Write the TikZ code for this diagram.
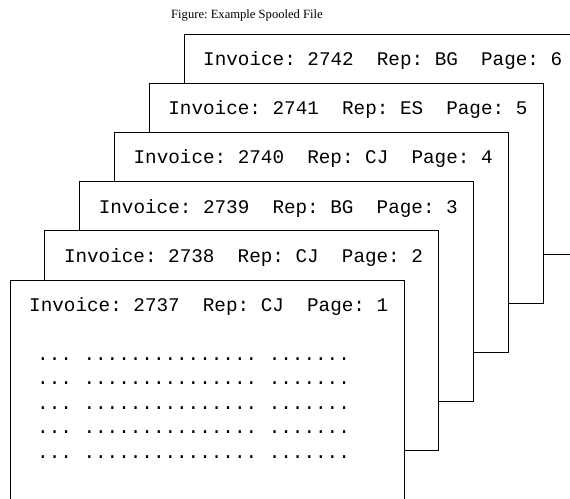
\documentclass[tikz,border=0pt]{standalone}
\usepackage{fontspec}
\setmonofont{Liberation Mono}
\newfontfamily\capfont{Liberation Serif}
\frenchspacing
\begin{document}
\begin{tikzpicture}[x=1pt,y=-1pt,
  page/.style={draw=black, line width=0.95pt, fill=white, anchor=north west,
    minimum width=394pt, minimum height=220pt, inner sep=0pt, outer sep=0pt},
  head/.style={anchor=base west, inner sep=0pt, font=\ttfamily\fontsize{19.3}{24}\selectfont\frenchspacing},
  dots/.style={anchor=base west, inner sep=0pt, font=\ttfamily\fontsize{19.3}{24}\selectfont\frenchspacing},
  caption/.style={anchor=base west, inner sep=0pt, font=\capfont\fontsize{12.6}{15}\selectfont}]
\useasboundingbox (0,0) rectangle (570,498);
\clip (0,0) rectangle (570,498);
\node[caption] (cap) at (171,18) {Figure: Example Spooled File};
% pages from back to front
\node[page] (p6) at (184,34) {};
\node[head] (h6) at (203,65.5) {Invoice: 2742\ \ Rep: BG\ \ Page: 6};
\node[page] (p5) at (149.2,83.2) {};
\node[head] (h5) at (168.2,114.7) {Invoice: 2741\ \ Rep: ES\ \ Page: 5};
\node[page] (p4) at (114.4,132.4) {};
\node[head] (h4) at (133.4,163.9) {Invoice: 2740\ \ Rep: CJ\ \ Page: 4};
\node[page] (p3) at (79.6,181.6) {};
\node[head] (h3) at (98.6,213.1) {Invoice: 2739\ \ Rep: BG\ \ Page: 3};
\node[page] (p2) at (44.8,230.8) {};
\node[head] (h2) at (63.8,262.3) {Invoice: 2738\ \ Rep: CJ\ \ Page: 2};
\node[page] (p1) at (10,280) {};
\node[head] (h1) at (29,311.5) {Invoice: 2737\ \ Rep: CJ\ \ Page: 1};
\node[dots] (d1) at (37,360) {... ............... .......};
\node[dots] (d2) at (37,384.6) {... ............... .......};
\node[dots] (d3) at (37,409.2) {... ............... .......};
\node[dots] (d4) at (37,433.8) {... ............... .......};
\node[dots] (d5) at (37,458.4) {... ............... .......};
\end{tikzpicture}
\end{document}
